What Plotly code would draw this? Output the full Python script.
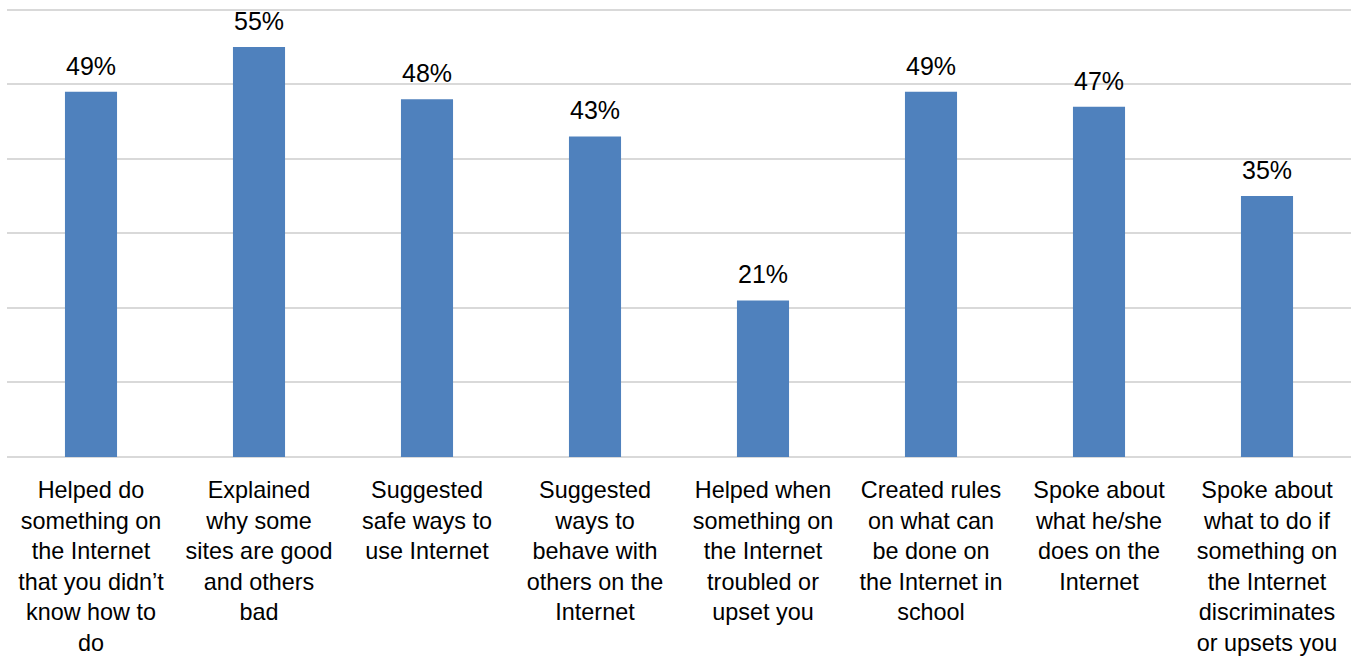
import plotly.graph_objects as go

categories = [
    "Helped do something on the Internet that you didn't know how to do",
    "Explained why some sites are good and others bad",
    "Suggested safe ways to use Internet",
    "Suggested ways to behave with others on the Internet",
    "Helped when something on the Internet troubled or upset you",
    "Created rules on what can be done on the Internet in school",
    "Spoke about what he/she does on the Internet",
    "Spoke about what to do if something on the Internet discriminates or upsets you",
]
tick_labels = [
    "Helped do<br>something on<br>the Internet<br>that you didn’t<br>know how to<br>do",
    "Explained<br>why some<br>sites are good<br>and others<br>bad",
    "Suggested<br>safe ways to<br>use Internet",
    "Suggested<br>ways to<br>behave with<br>others on the<br>Internet",
    "Helped when<br>something on<br>the Internet<br>troubled or<br>upset you",
    "Created rules<br>on what can<br>be done on<br>the Internet in<br>school",
    "Spoke about<br>what he/she<br>does on the<br>Internet",
    "Spoke about<br>what to do if<br>something on<br>the Internet<br>discriminates<br>or upsets you",
]
values = [49, 55, 48, 43, 21, 49, 47, 35]
grid_values = [0, 10, 20, 30, 40, 50, 60]

FONT = "Liberation Sans, Arial, sans-serif"

fig = go.Figure()
fig.add_trace(go.Bar(
    x=categories,
    y=values,
    width=0.31,
    marker=dict(color="#4f81bd", line=dict(width=0)),
    hoverinfo="skip",
))

for c, v in zip(categories, values):
    fig.add_annotation(
        x=c, y=v, text=f"{v}%", showarrow=False,
        yanchor="bottom", yshift=10,
        font=dict(family=FONT, size=25, color="#000000"),
    )

fig.update_layout(
    width=1358, height=657,
    margin=dict(l=7, r=7, t=6, b=200, autoexpand=False),
    paper_bgcolor="white", plot_bgcolor="white",
    showlegend=False,
    font=dict(family=FONT, color="#000000"),
    xaxis=dict(
        tickmode="array", tickvals=categories, ticktext=tick_labels,
        tickangle=0, showgrid=False, showline=False, ticks="",
        automargin=False, ticklabelstandoff=17,
        tickfont=dict(family=FONT, size=23.4, color="#000000"),
    ),
    yaxis=dict(
        range=[0, 60.5], tickvals=grid_values,
        showticklabels=False, automargin=False,
        showgrid=True, gridcolor="#d9d9d9", gridwidth=2,
        zeroline=True, zerolinecolor="#d9d9d9", zerolinewidth=2,
        showline=False, ticks="",
    ),
)

fig.write_html("out.html", config={"displayModeBar": False},
               post_script="document.body.style.margin='0';")
